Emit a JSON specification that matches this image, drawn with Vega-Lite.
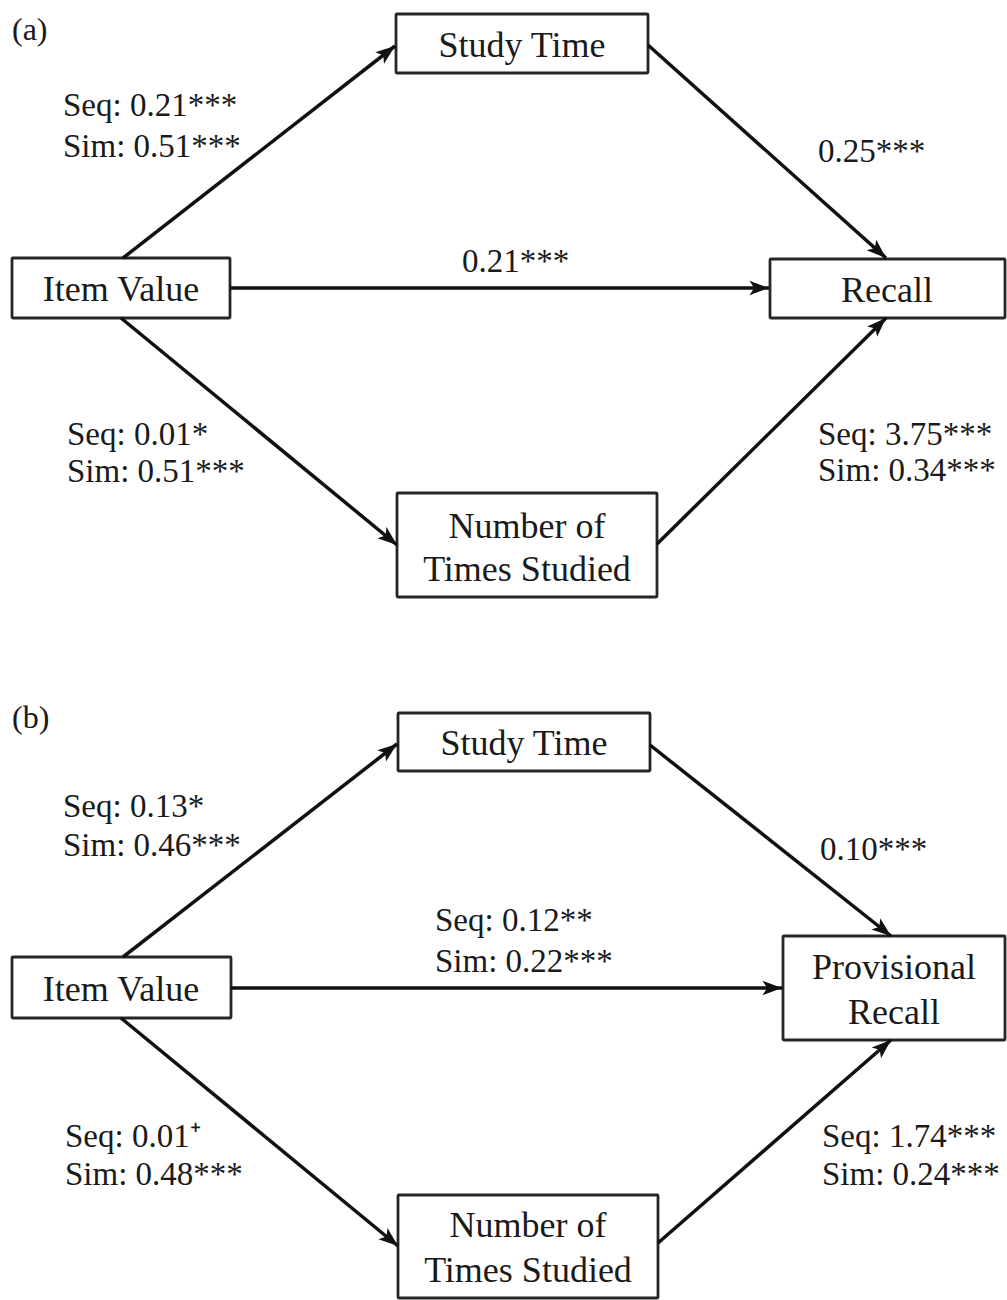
{
  "$schema": "https://vega.github.io/schema/vega-lite/v6.json",
  "width": 1007,
  "height": 1300,
  "autosize": {"type": "fit", "contains": "padding"},
  "padding": 0,
  "background": "white",
  "config": {"view": {"stroke": null}},
  "datasets": {
    "boxes": [
      {"node": "a-study", "x1": 396, "y1": 14, "x2": 648, "y2": 73},
      {"node": "a-item", "x1": 12, "y1": 258, "x2": 230, "y2": 318},
      {"node": "a-recall", "x1": 770, "y1": 259, "x2": 1005, "y2": 318},
      {"node": "a-nts", "x1": 397, "y1": 493, "x2": 657, "y2": 597},
      {"node": "b-study", "x1": 398, "y1": 713, "x2": 650, "y2": 771},
      {"node": "b-item", "x1": 12, "y1": 957, "x2": 231, "y2": 1018},
      {"node": "b-prov", "x1": 783, "y1": 936, "x2": 1005, "y2": 1040},
      {"node": "b-nts", "x1": 398, "y1": 1195, "x2": 658, "y2": 1298}
    ],
    "edges": [
      {"edge": "a1", "x1": 123, "y1": 258, "x2": 395, "y2": 46},
      {"edge": "a2", "x1": 648, "y1": 45, "x2": 886, "y2": 258},
      {"edge": "a3", "x1": 230, "y1": 288, "x2": 769, "y2": 288},
      {"edge": "a4", "x1": 121, "y1": 318, "x2": 397, "y2": 545},
      {"edge": "a5", "x1": 657, "y1": 544, "x2": 886, "y2": 318},
      {"edge": "b1", "x1": 123, "y1": 957, "x2": 397, "y2": 744},
      {"edge": "b2", "x1": 650, "y1": 745, "x2": 891, "y2": 936},
      {"edge": "b3", "x1": 231, "y1": 988, "x2": 782, "y2": 988},
      {"edge": "b4", "x1": 121, "y1": 1018, "x2": 398, "y2": 1246},
      {"edge": "b5", "x1": 658, "y1": 1243, "x2": 891, "y2": 1040}
    ],
    "nodeLabels": [
      {"text": "Study Time", "x": 522, "y": 46},
      {"text": "Item Value", "x": 121, "y": 290},
      {"text": "Recall", "x": 887, "y": 291},
      {"text": "Number of", "x": 527, "y": 527},
      {"text": "Times Studied", "x": 527, "y": 570},
      {"text": "Study Time", "x": 524, "y": 744},
      {"text": "Item Value", "x": 121, "y": 990},
      {"text": "Provisional", "x": 894, "y": 968},
      {"text": "Recall", "x": 894, "y": 1013},
      {"text": "Number of", "x": 528, "y": 1226},
      {"text": "Times Studied", "x": 528, "y": 1271}
    ],
    "coefLabels": [
      {"text": "Seq: 0.21***", "x": 63, "y": 106},
      {"text": "Sim: 0.51***", "x": 63, "y": 147},
      {"text": "0.25***", "x": 818, "y": 152},
      {"text": "0.21***", "x": 462, "y": 262},
      {"text": "Seq: 0.01*", "x": 67, "y": 435},
      {"text": "Sim: 0.51***", "x": 67, "y": 472},
      {"text": "Seq: 3.75***", "x": 818, "y": 435},
      {"text": "Sim: 0.34***", "x": 818, "y": 471},
      {"text": "Seq: 0.13*", "x": 63, "y": 807},
      {"text": "Sim: 0.46***", "x": 63, "y": 846},
      {"text": "0.10***", "x": 820, "y": 850},
      {"text": "Seq: 0.12**", "x": 435, "y": 921},
      {"text": "Sim: 0.22***", "x": 435, "y": 962},
      {"text": "Seq: 0.01⁺", "x": 65, "y": 1137},
      {"text": "Sim: 0.48***", "x": 65, "y": 1175},
      {"text": "Seq: 1.74***", "x": 822, "y": 1137},
      {"text": "Sim: 0.24***", "x": 822, "y": 1175}
    ],
    "panelLabels": [
      {"text": "(a)", "x": 12, "y": 30},
      {"text": "(b)", "x": 12, "y": 718}
    ]
  },
  "layer": [
    {
      "data": {"name": "boxes"},
      "mark": {"type": "rect", "fill": "white", "stroke": "#262626", "strokeWidth": 2.8, "cornerRadius": 1},
      "encoding": {
        "x": {"field": "x1", "type": "quantitative", "scale": {"domain": [0, 1007], "nice": false, "zero": false}, "axis": null},
        "x2": {"field": "x2"},
        "y": {"field": "y1", "type": "quantitative", "scale": {"domain": [0, 1300], "nice": false, "zero": false, "reverse": true}, "axis": null},
        "y2": {"field": "y2"}
      }
    },
    {
      "data": {"name": "edges"},
      "mark": {"type": "rule", "strokeWidth": 3.5, "color": "#111111"},
      "encoding": {
        "x": {"field": "x1", "type": "quantitative", "scale": {"domain": [0, 1007], "nice": false, "zero": false}, "axis": null},
        "x2": {"field": "x2"},
        "y": {"field": "y1", "type": "quantitative", "scale": {"domain": [0, 1300], "nice": false, "zero": false, "reverse": true}, "axis": null},
        "y2": {"field": "y2"}
      }
    },
    {
      "data": {"name": "edges"},
      "transform": [
        {"calculate": "atan2(datum.x2 - datum.x1, -(datum.y2 - datum.y1)) * 180 / PI", "as": "ang"}
      ],
      "mark": {"type": "point", "shape": "M0,0 L0.7,1.9 L0,1.45 L-0.7,1.9 Z", "filled": true, "size": 420, "color": "#111111", "opacity": 1, "strokeWidth": 0},
      "encoding": {
        "x": {"field": "x2", "type": "quantitative", "scale": {"domain": [0, 1007], "nice": false, "zero": false}, "axis": null},
        "y": {"field": "y2", "type": "quantitative", "scale": {"domain": [0, 1300], "nice": false, "zero": false, "reverse": true}, "axis": null},
        "angle": {"field": "ang", "type": "quantitative", "scale": null}
      }
    },
    {
      "data": {"name": "nodeLabels"},
      "mark": {"type": "text", "font": "Liberation Serif", "fontSize": 36, "align": "center", "baseline": "middle", "color": "#1a1a1a"},
      "encoding": {
        "x": {"field": "x", "type": "quantitative", "scale": {"domain": [0, 1007], "nice": false, "zero": false}, "axis": null},
        "y": {"field": "y", "type": "quantitative", "scale": {"domain": [0, 1300], "nice": false, "zero": false, "reverse": true}, "axis": null},
        "text": {"field": "text", "type": "nominal"}
      }
    },
    {
      "data": {"name": "coefLabels"},
      "mark": {"type": "text", "font": "Liberation Serif", "fontSize": 33, "align": "left", "baseline": "middle", "color": "#1a1a1a"},
      "encoding": {
        "x": {"field": "x", "type": "quantitative", "scale": {"domain": [0, 1007], "nice": false, "zero": false}, "axis": null},
        "y": {"field": "y", "type": "quantitative", "scale": {"domain": [0, 1300], "nice": false, "zero": false, "reverse": true}, "axis": null},
        "text": {"field": "text", "type": "nominal"}
      }
    },
    {
      "data": {"name": "panelLabels"},
      "mark": {"type": "text", "font": "Liberation Serif", "fontSize": 32, "align": "left", "baseline": "middle", "color": "#1a1a1a"},
      "encoding": {
        "x": {"field": "x", "type": "quantitative", "scale": {"domain": [0, 1007], "nice": false, "zero": false}, "axis": null},
        "y": {"field": "y", "type": "quantitative", "scale": {"domain": [0, 1300], "nice": false, "zero": false, "reverse": true}, "axis": null},
        "text": {"field": "text", "type": "nominal"}
      }
    }
  ]
}
